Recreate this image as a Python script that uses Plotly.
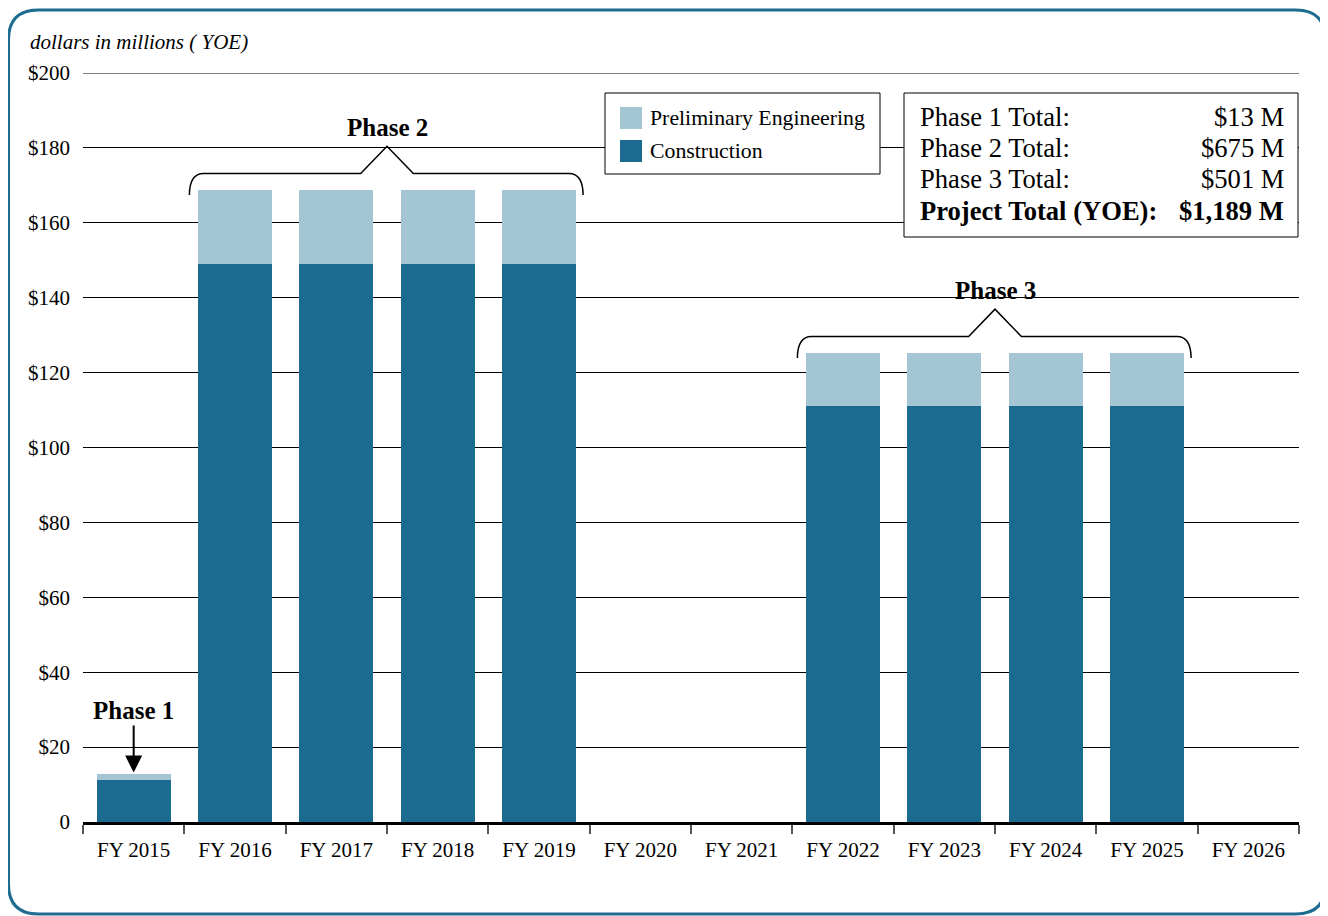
import plotly.graph_objects as go

# ---- data ----
years = ["FY 2015", "FY 2016", "FY 2017", "FY 2018", "FY 2019", "FY 2020",
         "FY 2021", "FY 2022", "FY 2023", "FY 2024", "FY 2025", "FY 2026"]
construction = [11.2, 149, 149, 149, 149, 0, 0, 111, 111, 111, 111, 0]
prelim_eng = [1.6, 19.75, 19.75, 19.75, 19.75, 0, 0, 14.25, 14.25, 14.25, 14.25, 0]
y_tickvals = [0, 20, 40, 60, 80, 100, 120, 140, 160, 180, 200]
y_ticktext = ["0", "$20", "$40", "$60", "$80", "$100", "$120", "$140", "$160", "$180", "$200"]
totals_labels = ["Phase 1 Total:", "Phase 2 Total:", "Phase 3 Total:", "Project Total (YOE):"]
totals_values = ["$13 M", "$675 M", "$501 M", "$1,189 M"]
phases = [("Phase 2", 1, 4), ("Phase 3", 7, 10)]  # (label, first bar index, last bar index)

C_DARK = "#1a6b8f"
C_LIGHT = "#a4c5d4"
FONT = "Liberation Serif"

OFF = 8  # page body margin
W, H = 1328 - OFF, 916 - OFF
X0, X1, Y0, Y1 = 83, 1299, 73, 822   # plot area in window pixels
PW, PH = X1 - X0, Y1 - Y0
L, T = X0 - OFF, Y0 - OFF
R, B = W - L - PW, H - T - PH


def px(x):
    return (x - X0) / PW


def py(y):
    return (Y1 - y) / PH


fig = go.Figure()
fig.add_trace(go.Bar(x=years, y=construction, name="Construction",
                     marker=dict(color=C_DARK, line=dict(width=0)), showlegend=False))
fig.add_trace(go.Bar(x=years, y=prelim_eng, name="Preliminary Engineering",
                     marker=dict(color=C_LIGHT, line=dict(width=0)), showlegend=False))

totals = [c + p for c, p in zip(construction, prelim_eng)]

shapes = []
annotations = []

# top gridline (at range edge)
shapes.append(dict(type="line", xref="paper", yref="y", x0=0, x1=1,
                   y0=y_tickvals[-1], y1=y_tickvals[-1],
                   line=dict(color="black", width=1), layer="below"))

# braces over phases
for label, i0, i1 in phases:
    top = max(totals[i0:i1 + 1])
    xl, xr = i0 - 0.45, i1 + 0.435
    xc = (i0 + i1) / 2
    yb, yh, yt = top - 1.35, top + 4.4, top + 11.7
    dx, dt = 0.14, 0.26
    path = (f"M {xl},{yb} Q {xl},{yh} {xl+dx},{yh} L {xc-dt},{yh} L {xc},{yt} "
            f"L {xc+dt},{yh} L {xr-dx},{yh} Q {xr},{yh} {xr},{yb}")
    shapes.append(dict(type="path", xref="x", yref="y", path=path,
                       line=dict(color="black", width=1.5)))
    annotations.append(dict(x=xc, y=top + 16.6, xref="x", yref="y", text=f"<b>{label}</b>",
                            showarrow=False, yanchor="middle",
                            font=dict(family=FONT, size=25, color="black")))

# Phase 1 arrow
annotations.append(dict(x=0, y=totals[0] + 0.4, xref="x", yref="y", text="<b>Phase 1</b>",
                        showarrow=True, ax=0, ay=-62, axref="pixel", ayref="pixel",
                        arrowhead=2, arrowsize=1.7, arrowwidth=2, arrowcolor="black",
                        font=dict(family=FONT, size=25, color="black")))

# y axis title
annotations.append(dict(x=px(28), y=py(42), xref="paper", yref="paper",
                        text="<i>dollars in millions ( YOE)</i>", showarrow=False,
                        xanchor="left", yanchor="middle",
                        font=dict(family=FONT, size=21, color="black")))

# legend box (manual)
shapes.append(dict(type="rect", xref="paper", yref="paper", x0=px(605), x1=px(880),
                   y0=py(174), y1=py(93), fillcolor="white",
                   line=dict(color="black", width=1), layer="above"))
for (name, col, yc) in [("Preliminary Engineering", C_LIGHT, 118), ("Construction", C_DARK, 151)]:
    shapes.append(dict(type="rect", xref="paper", yref="paper", x0=px(620), x1=px(642),
                       y0=py(yc + 11), y1=py(yc - 11), fillcolor=col,
                       line=dict(width=0), layer="above"))
    annotations.append(dict(x=px(648), y=py(yc), xref="paper", yref="paper", text=name,
                            showarrow=False, xanchor="left", yanchor="middle",
                            font=dict(family=FONT, size=21.8, color="black")))

# totals box
shapes.append(dict(type="rect", xref="paper", yref="paper", x0=px(904), x1=px(1298),
                   y0=py(237), y1=py(93), fillcolor="white",
                   line=dict(color="black", width=1), layer="above"))
rows_y = [117, 148, 179, 211]
for i, (lab, val) in enumerate(zip(totals_labels, totals_values)):
    bold = i == len(totals_labels) - 1
    lt = f"<b>{lab}</b>" if bold else lab
    vt = f"<b>{val}</b>" if bold else val
    annotations.append(dict(x=px(918), y=py(rows_y[i]), xref="paper", yref="paper", text=lt,
                            showarrow=False, xanchor="left", yanchor="middle",
                            font=dict(family=FONT, size=26.6, color="black")))
    annotations.append(dict(x=px(1286), y=py(rows_y[i]), xref="paper", yref="paper", text=vt,
                            showarrow=False, xanchor="right", yanchor="middle",
                            font=dict(family=FONT, size=26.6, color="black")))

# rounded border
bx1, bx2 = px(8.5), px(1325.5)
byt, byb = py(10), py(914)
rx, ry = 30 / PW, 30 / PH
border = (f"M {bx1+rx},{byt} L {bx2-rx},{byt} Q {bx2},{byt} {bx2},{byt-ry} L {bx2},{byb+ry} "
          f"Q {bx2},{byb} {bx2-rx},{byb} L {bx1+rx},{byb} Q {bx1},{byb} {bx1},{byb+ry} "
          f"L {bx1},{byt-ry} Q {bx1},{byt} {bx1+rx},{byt} Z")
shapes.append(dict(type="path", xref="paper", yref="paper", path=border,
                   line=dict(color="#1e6c90", width=3), layer="above"))

fig.update_layout(
    width=W, height=H,
    margin=dict(l=L, r=R, t=T, b=B),
    barmode="stack", bargap=0.27,
    paper_bgcolor="white", plot_bgcolor="white",
    font=dict(family=FONT, size=21, color="black"),
    showlegend=False,
    shapes=shapes, annotations=annotations,
    xaxis=dict(type="category", categoryorder="array", categoryarray=years,
               showline=True, linecolor="black", linewidth=2.5,
               ticks="outside", tickson="boundaries", ticklen=9, tickwidth=1.5,
               tickcolor="#555", showgrid=False, fixedrange=True, ticklabelstandoff=7,
               tickfont=dict(family=FONT, size=21, color="black")),
    yaxis=dict(range=[0, 200], tickvals=y_tickvals, ticktext=y_ticktext,
               showgrid=True, gridcolor="black", gridwidth=1, zeroline=False,
               ticks="", ticklabelstandoff=12, fixedrange=True,
               tickfont=dict(family=FONT, size=21, color="black")),
)

fig.write_html("out.html")
